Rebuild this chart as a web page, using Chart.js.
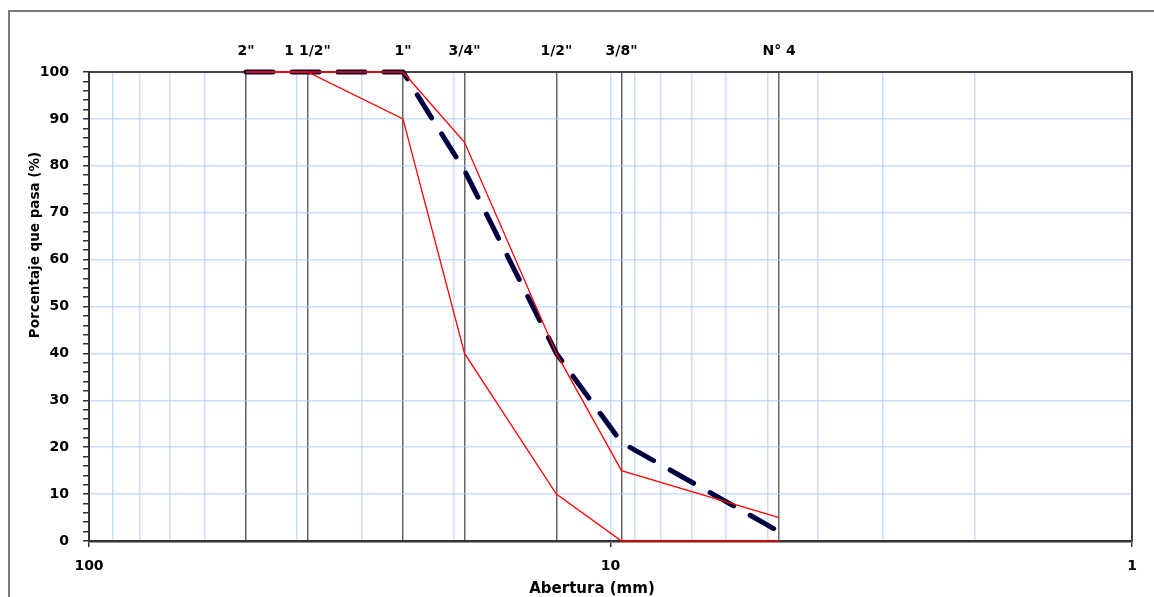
<!DOCTYPE html>
<html>
<head>
<meta charset="utf-8">
<script src="https://cdn.jsdelivr.net/npm/chart.js@4/dist/chart.umd.min.js"></script>
<style>
  html, body { margin: 0; padding: 0; background: #fff; }
  #wrap { width: 1154px; height: 597px; }
</style>
</head>
<body>
<div id="wrap"><canvas id="c" width="1154" height="597"></canvas></div>
<script>
// ---- data ----
const sieveLabels = ['2"', '1 1/2"', '1"', '3/4"', '1/2"', '3/8"', 'N° 4'];
const sieveSizes = [50, 38.1, 25, 19.05, 12.7, 9.525, 4.75];
const upperLimit = [100, 100, 100, 85, 40, 15, 5];
const lowerLimit = [100, 100, 90, 40, 10, 0, 0];
const gradation = [100, 100, 100, 79, 40, 21, 2];
const xGridValues = [1, 2, 3, 4, 5, 6, 7, 8, 9, 10, 20, 30, 40, 50, 60, 70, 80, 90, 100];
const xLabelValues = [1, 10, 100];
const yTitle = 'Porcentaje que pasa (%)';
const xTitle = 'Abertura (mm)';

const FONT = "'DejaVu Sans', 'Liberation Sans', Arial, sans-serif";
const BLUE = 'rgba(170,205,255,0.65)';
const pts = arr => sieveSizes.map((s, i) => ({ x: s, y: arr[i] }));

const framePlugin = {
  id: 'frame',
  beforeDraw(chart) {
    const ctx = chart.ctx;
    ctx.save();
    ctx.fillStyle = '#fff';
    ctx.fillRect(0, 0, chart.width, chart.height);
    ctx.strokeStyle = '#7a7a7a';
    ctx.lineWidth = 2;
    ctx.beginPath();
    ctx.moveTo(9, 597);
    ctx.lineTo(9, 11);
    ctx.lineTo(1154, 11);
    ctx.stroke();
    ctx.restore();
  },
  afterDraw(chart) {
    const ctx = chart.ctx;
    ctx.save();
    ctx.fillStyle = '#000';
    ctx.font = 'bold 13.5px ' + FONT;
    ctx.textAlign = 'center';
    ctx.textBaseline = 'middle';
    ctx.translate(35, 245);
    ctx.rotate(-Math.PI / 2);
    ctx.fillText(yTitle, 0, 0);
    ctx.restore();
    ctx.save();
    ctx.fillStyle = '#000';
    ctx.font = 'bold 15px ' + FONT;
    ctx.textAlign = 'center';
    ctx.textBaseline = 'middle';
    ctx.fillText(xTitle, 592, 589);
    ctx.restore();
  }
};

new Chart(document.getElementById('c'), {
  type: 'line',
  data: {
    datasets: [
      { label: 'Límite superior', data: pts(upperLimit), borderColor: '#ff0000', borderWidth: 1.3, pointRadius: 0, tension: 0, clip: 6 },
      { label: 'Límite inferior', data: pts(lowerLimit), borderColor: '#ff0000', borderWidth: 1.3, pointRadius: 0, tension: 0, clip: 6 },
      { label: 'Granulometría', data: pts(gradation), borderColor: '#000040', borderWidth: 5, borderDash: [27, 19], borderCapStyle: 'round', pointRadius: 0, tension: 0, clip: 6 }
    ]
  },
  options: {
    responsive: false,
    animation: false,
    events: [],
    layout: { padding: { left: 0, right: 22, top: 0, bottom: 0 } },
    plugins: { legend: { display: false }, tooltip: { enabled: false }, title: { display: false } },
    scales: {
      x: {
        type: 'logarithmic', position: 'bottom', reverse: true, min: 1, max: 100, z: -1,
        afterBuildTicks: s => { s.ticks = xGridValues.map(v => ({ value: v })); },
        afterFit: s => { s.height = 56; },
        ticks: {
          autoSkip: false, maxRotation: 0, minRotation: 0, padding: 11, color: '#000',
          font: { family: FONT, size: 14, weight: 'bold' },
          callback: v => xLabelValues.includes(v) ? String(v) : ''
        },
        grid: {
          color: c => (c.tick && (c.tick.value === 1 || c.tick.value === 100)) ? 'rgba(0,0,0,0)' : BLUE,
          lineWidth: 1.5,
          tickColor: c => (c.tick && xLabelValues.includes(c.tick.value)) ? '#333' : 'rgba(0,0,0,0)',
          tickLength: 6
        },
        border: { display: true, color: '#333', width: 2.5 }
      },
      x2: {
        type: 'logarithmic', position: 'top', reverse: true, min: 1, max: 100, z: 0,
        afterBuildTicks: s => { s.ticks = sieveSizes.map(v => ({ value: v })); },
        afterFit: s => { s.height = 72; },
        ticks: {
          autoSkip: false, maxRotation: 0, minRotation: 0, padding: 12, color: '#000',
          font: { family: FONT, size: 14, weight: 'bold' },
          callback: v => sieveLabels[sieveSizes.indexOf(v)]
        },
        grid: { color: '#666', lineWidth: 1.5, drawTicks: false, tickLength: 0 },
        border: { display: true, color: '#444', width: 2 }
      },
      y: {
        type: 'linear', position: 'left', min: 0, max: 100,
        afterFit: s => { s.width = 89; },
        ticks: {
          stepSize: 2, autoSkip: false, padding: 14, color: '#000',
          font: { family: FONT, size: 14, weight: 'bold' },
          callback: v => (v % 10 === 0) ? String(v) : ''
        },
        grid: {
          color: c => (c.tick && c.tick.value % 10 === 0 && c.tick.value !== 0 && c.tick.value !== 100) ? BLUE : 'rgba(0,0,0,0)',
          lineWidth: 1.5,
          tickColor: '#333',
          tickLength: 6
        },
        border: { display: true, color: '#333', width: 2 }
      },
      yR: {
        type: 'linear', position: 'right', min: 0, max: 100,
        afterFit: s => { s.width = 0; },
        ticks: { display: false },
        grid: { drawOnChartArea: false, drawTicks: false },
        border: { display: true, color: '#444', width: 2 }
      }
    }
  },
  plugins: [framePlugin]
});
</script>
</body>
</html>
